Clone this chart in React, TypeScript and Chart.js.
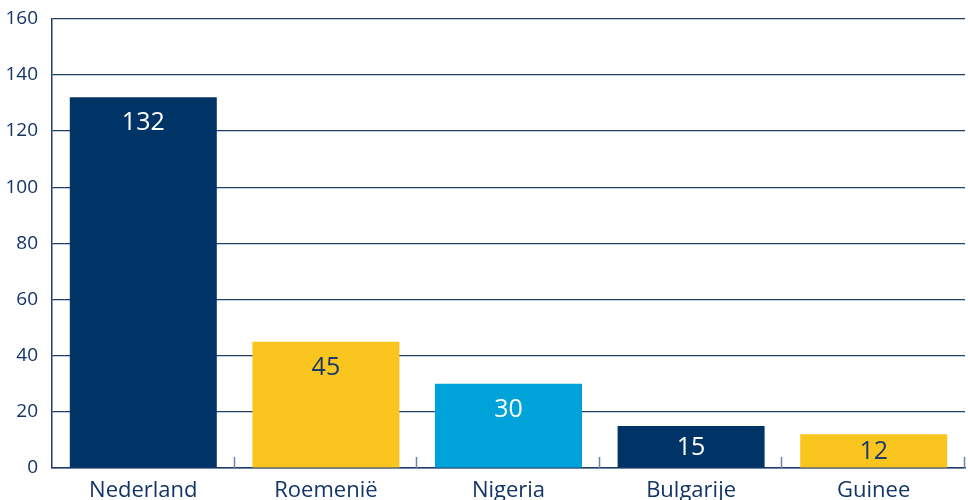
import React, { useEffect, useRef } from "react";
import { Chart, registerables } from "chart.js";

Chart.register(...registerables);

const categories = ["Nederland", "Roemenië", "Nigeria", "Bulgarije", "Guinee"];
const values = [132, 45, 30, 15, 12];
const barColors = ["#003366", "#fbc51f", "#00a3d9", "#003366", "#fbc51f"];
const labelColors = ["#ffffff", "#1a3a6b", "#ffffff", "#ffffff", "#1a3a6b"];
const yTicks = [0, 20, 40, 60, 80, 100, 120, 140, 160];

const FONT = "'Open Sans', 'Noto Sans', sans-serif";
const DARK = "#133565";

const overlayPlugin = {
  id: "overlay",
  afterDatasetsDraw(chart: any) {
    const ctx = chart.ctx;
    const area = chart.chartArea;
    const n = categories.length;
    const w = (area.right - area.left) / n;
    ctx.save();
    ctx.strokeStyle = "#6f85a8";
    ctx.lineWidth = 1.5;
    for (let i = 1; i <= n; i++) {
      const px = Math.round(area.left + w * i) - 0.5;
      ctx.beginPath();
      ctx.moveTo(px, area.bottom);
      ctx.lineTo(px, area.bottom - 11);
      ctx.stroke();
    }
    const meta = chart.getDatasetMeta(0);
    ctx.font = "25px " + FONT;
    ctx.textAlign = "center";
    ctx.textBaseline = "middle";
    meta.data.forEach((bar: any, i: number) => {
      const top = bar.y;
      const base = bar.base;
      const mid = (top + base) / 2;
      const y = Math.min(top + 26, mid + 1);
      ctx.fillStyle = labelColors[i];
      ctx.fillText(String(values[i]), bar.x, y);
    });
    ctx.restore();
  },
};

export default function App() {
  const ref = useRef<HTMLCanvasElement | null>(null);
  useEffect(() => {
    if (!ref.current) return;
    const chart = new Chart(ref.current, {
      type: "bar",
      data: {
        labels: categories,
        datasets: [
          {
            data: values,
            backgroundColor: barColors,
            borderWidth: 0,
            barPercentage: 0.805,
            categoryPercentage: 1,
          },
        ],
      },
      options: {
        animation: false,
        responsive: false,
        maintainAspectRatio: false,
        devicePixelRatio: 1,
        layout: { padding: { top: 14, right: 3, left: 0, bottom: 0 } },
        plugins: { legend: { display: false }, tooltip: { enabled: false } },
        scales: {
          x: {
            grid: { display: false, drawTicks: false },
            border: { display: true, color: "#1f3c6a", width: 1.5 },
            ticks: {
              color: DARK,
              font: { family: FONT, size: 22 },
              padding: 10,
              maxRotation: 0,
            },
            afterFit(scale: any) {
              scale.height = 42;
            },
          },
          y: {
            min: 0,
            max: 160,
            afterBuildTicks(scale: any) {
              scale.ticks = yTicks.map((v) => ({ value: v }));
            },
            grid: { color: "#1f3c6a", lineWidth: 1.2, drawTicks: false },
            border: { display: true, color: "#1f3c6a", width: 1.5 },
            ticks: {
              color: DARK,
              font: { family: FONT, size: 19, lineHeight: 0.5 },
              padding: 14,
            },
            afterFit(scale: any) {
              scale.width = 52;
            },
          },
        },
      },
      plugins: [overlayPlugin],
    });
    return () => chart.destroy();
  }, []);
  return (
    <div
      style={{
        position: "fixed",
        left: 0,
        top: 0,
        width: 968,
        height: 500,
        overflow: "hidden",
        background: "#ffffff",
      }}
    >
      <canvas ref={ref} width={968} height={510} style={{ display: "block" }} />
    </div>
  );
}
